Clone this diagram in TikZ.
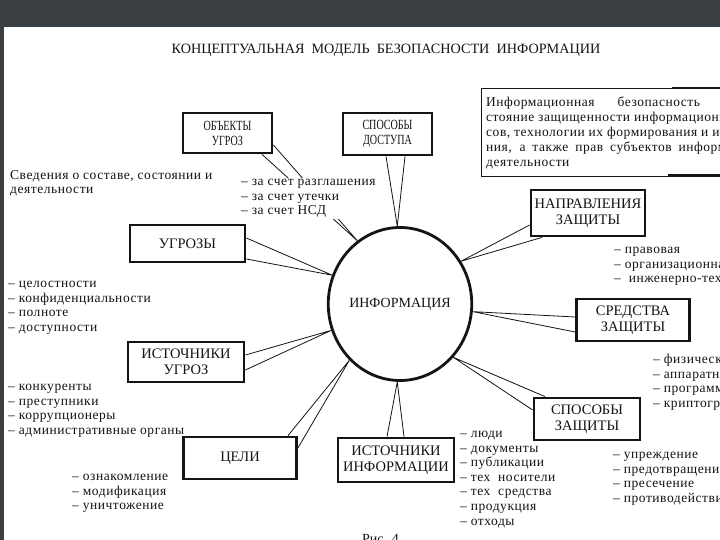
\documentclass[tikz,border=0pt]{standalone}
\usepackage{fontspec}
\setmainfont{Liberation Serif}
\newfontfamily\lsfont[LetterSpace=4]{Liberation Serif}
\newfontfamily\condfont[FakeStretch=0.72]{Liberation Serif}
\usetikzlibrary{shapes.geometric}
\definecolor{band}{RGB}{58,63,68}
\definecolor{ink}{RGB}{20,20,20}
\tikzset{
  box/.style={draw=ink, line width=2.8pt, fill=white, align=center, inner sep=0pt, font=\fontsize{14.5}{16}\selectfont, text=ink},
  smallbox/.style={box, font=\condfont\fontsize{14}{15}\selectfont},
  wedge/.style={draw=ink, line width=0.8pt},
  list/.style={anchor=north west, align=left, inner sep=0pt, text=ink, font=\lsfont\fontsize{13.5}{14.6}\selectfont}
}
\begin{document}
\begin{tikzpicture}[x=1pt,y=-1pt]
\useasboundingbox (0,0) rectangle (720,540);
\clip (0,0) rectangle (720,540);
\fill[white] (0,0) rectangle (720,540);
\fill[band] (0,0) rectangle (720,27);
\fill[band] (0,27) rectangle (4,540);

% title
\node[text=ink, font=\fontsize{14.2}{16}\selectfont] (title) at (386,50) {КОНЦЕПТУАЛЬНАЯ\ \ МОДЕЛЬ\ \ БЕЗОПАСНОСТИ\ \ ИНФОРМАЦИИ};

% definition box
\draw[ink, line width=0.9pt] (481,88) -- (730,88);
\draw[ink, line width=0.9pt] (481,88) -- (481,176) -- (730,176);
\draw[ink, line width=2pt] (672,88.5) -- (730,88.5);
\draw[ink, line width=2pt] (668,175.5) -- (730,175.5);
\node[anchor=north west, align=left, inner sep=0pt, text=ink, font=\lsfont\fontsize{13.5}{15}\selectfont] (def) at (486,97)
 {\makebox[292pt][s]{Информационная безопасность — со-}\\
  стояние защищенности информационных ресур-\\
  сов, технологии их формирования и использова-\\
  \makebox[300pt][s]{ния, а также прав субъектов информационной}\\
  деятельности};

% central ellipse
\node[ellipse, draw=ink, line width=2.8pt, minimum width=137pt, minimum height=153pt, inner sep=0pt, text=ink, font=\fontsize{14}{16}\selectfont] (info) at (400,304) {ИНФОРМАЦИЯ};

% boxes
\node[smallbox, minimum width=89pt, minimum height=40pt] (ob) at (227.5,133) {ОБЪЕКТЫ\\УГРОЗ};
\node[smallbox, minimum width=89pt, minimum height=42pt] (sd) at (387.5,134) {СПОСОБЫ\\ДОСТУПА};
\node[box, minimum width=114pt, minimum height=46pt] (np) at (588,213) {НАПРАВЛЕНИЯ\\ЗАЩИТЫ};
\node[box, minimum width=115pt, minimum height=37pt] (ug) at (187.5,243.5) {УГРОЗЫ};
\node[box, minimum width=113pt, minimum height=42pt] (sr) at (633,320) {СРЕДСТВА\\ЗАЩИТЫ};
\node[box, minimum width=116pt, minimum height=40pt] (iu) at (186,362) {ИСТОЧНИКИ\\УГРОЗ};
\node[box, minimum width=106pt, minimum height=42pt] (sz) at (587,419) {СПОСОБЫ\\ЗАЩИТЫ};
\node[box, minimum width=113pt, minimum height=42pt] (ce) at (240,458) {ЦЕЛИ};
\node[box, minimum width=116pt, minimum height=44pt] (ii) at (396,460) {ИСТОЧНИКИ\\ИНФОРМАЦИИ};

% lists
\node[list] (t1) at (10,170) {Сведения о составе, состоянии и\\деятельности};
\node[list] (t4) at (8,281) {– целостности\\– конфиденциальности\\– полноте\\– доступности};
\node[list] (t6) at (8,384) {– конкуренты\\– преступники\\– коррупционеры\\– административные органы};
\node[list] (t9) at (72,474) {– ознакомление\\– модификация\\– уничтожение};
\node[list] (t3) at (614,247) {– правовая\\– организационная\\– \ инженерно-техническая};
\node[list] (t5) at (653,354) {– физические\\– аппаратные\\– программные\\– криптографические};
\node[list] (t7) at (460,431) {– люди\\– документы\\– публикации\\– тех\ \ носители\\– тех\ \ средства\\– продукция\\– отходы};
\node[list] (t8) at (613,452) {– упреждение\\– предотвращение\\– пресечение\\– противодействие};
\node[text=ink, anchor=north west, inner sep=0pt, font=\fontsize{14}{16}\selectfont] (fig) at (362,534) {Рис. 4};

% wedges
\draw[wedge] ([xshift=34.5pt]ob.south) -- (info.124) -- ([yshift=-12pt]ob.east);
\draw[wedge] ([xshift=-1.5pt]sd.south) -- (info.92) -- ([xshift=17.5pt]sd.south);
\draw[wedge] ([yshift=-12pt]np.west) -- (info.35) -- ([xshift=-46pt]np.south);
\draw[wedge] ([yshift=5.5pt]ug.east) -- (info.157) -- ([yshift=-15.5pt]ug.east);
\draw[wedge] ([yshift=3pt]sr.west) -- (info.-6) -- ([yshift=-12pt]sr.west);
\draw[wedge] ([yshift=7pt]iu.east) -- (info.201) -- ([yshift=-8pt]iu.east);
\draw[wedge] ([xshift=-42pt]sz.north) -- (info.-45) -- ([yshift=9pt]sz.west);
\draw[wedge] ([xshift=48pt]ce.north) -- (info.228) -- ([yshift=10pt]ce.east);
\draw[wedge] ([xshift=-9pt]ii.north) -- (info.268) -- ([xshift=8pt]ii.north);

% text block over the first wedge
\node[list, fill=white, inner sep=1pt] (t2) at (240,178) {– за счет разглашения\\– за счет утечки\\– за счет НСД};
\end{tikzpicture}
\end{document}
